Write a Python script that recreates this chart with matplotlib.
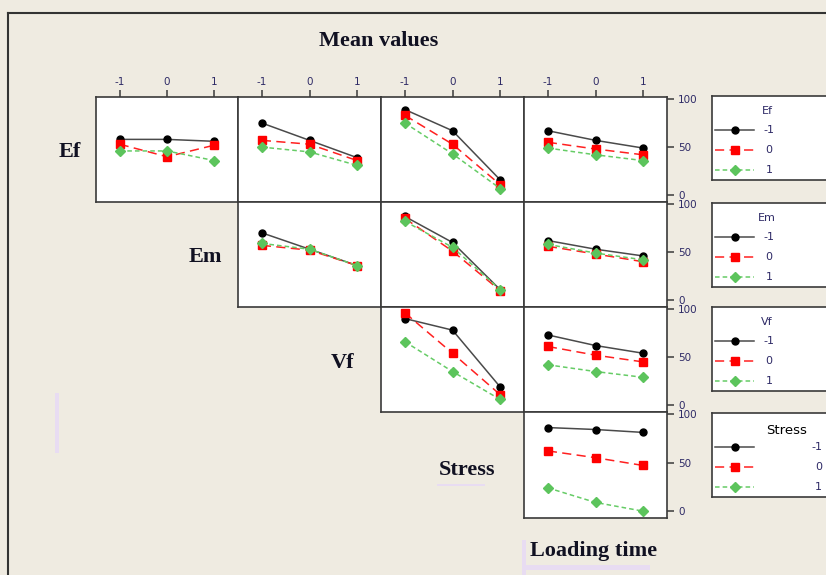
import matplotlib.pyplot as plt
from matplotlib.patches import Rectangle

# levels on the x axis and for the traces
levels = [-1, 0, 1]
trace_labels = ['-1', '0', '1']
factors = ['Ef', 'Em', 'Vf', 'Stress']
x_factors = ['Em', 'Vf', 'Stress', 'Loading time']

# mean values per panel: rows = trace level (-1, 0, 1)
ef_vs_em = [[58, 58, 56], [53, 40, 52], [46, 46, 36]]
ef_vs_vf = [[75, 57, 39], [57, 53, 36], [50, 45, 31]]
ef_vs_stress = [[89, 67, 16], [83, 53, 11], [75, 43, 7]]
ef_vs_time = [[67, 57, 49], [55, 48, 42], [49, 42, 36]]
em_vs_vf = [[70, 53, 36], [57, 52, 36], [59, 53, 36]]
em_vs_stress = [[87, 60, 11], [85, 51, 10], [82, 55, 11]]
em_vs_time = [[62, 53, 46], [56, 48, 40], [58, 49, 42]]
vf_vs_stress = [[90, 78, 19], [96, 54, 11], [66, 35, 6]]
vf_vs_time = [[73, 62, 54], [61, 52, 45], [42, 35, 29]]
stress_vs_time = [[86, 84, 81], [62, 55, 47], [24, 9, 0]]

panels = {
    (0, 0): ef_vs_em, (0, 1): ef_vs_vf, (0, 2): ef_vs_stress, (0, 3): ef_vs_time,
    (1, 1): em_vs_vf, (1, 2): em_vs_stress, (1, 3): em_vs_time,
    (2, 2): vf_vs_stress, (2, 3): vf_vs_time,
    (3, 3): stress_vs_time,
}

W, H = 826, 575
bg = '#efebe1'
tick_col = '#2e2a66'
styles = [
    dict(color='#4a4a4a', ls='-', marker='o', mfc='black', mec='black', ms=5),
    dict(color='#ff2020', ls=(0, (6, 3.5)), marker='s', mfc='red', mec='red', ms=5.5),
    dict(color='#66cc66', ls=(0, (3, 2)), marker='D', mfc='#5cc45c', mec='#5cc45c', ms=5),
]

col_x = [96, 238, 381, 524, 667]
row_y = [97, 202, 307, 412, 518]


def fig_rect(x0, y0, x1, y1):
    return [x0 / W, 1 - y1 / H, (x1 - x0) / W, (y1 - y0) / H]


fig = plt.figure(figsize=(W / 100, H / 100), dpi=100)
fig.patch.set_facecolor(bg)

# outer frame (only left and top edges are visible)
fig.add_artist(plt.Line2D([8 / W, 8 / W], [0, 1 - 13 / H], color='#333333', lw=1.5))
fig.add_artist(plt.Line2D([8 / W, 1], [1 - 13 / H, 1 - 13 / H], color='#333333', lw=1.5))

# faint lavender marks from the original
for (x, y, w, h) in [(55, 393, 4, 60), (522, 565, 128, 5), (522, 540, 4, 35), (437, 484, 48, 2)]:
    fig.add_artist(Rectangle((x / W, 1 - (y + h) / H), w / W, h / H,
                             transform=fig.transFigure, color='#e8dcf2', lw=0))

for (r, c), data in panels.items():
    ax = fig.add_axes(fig_rect(col_x[c], row_y[r], col_x[c + 1], row_y[r + 1]))
    ax.set_facecolor('white')
    for i, series in enumerate(data):
        ax.plot(levels, series, lw=1.1, **styles[i])
    ax.set_xlim(-1.5, 1.5)
    ax.set_ylim(-7, 102)
    for s in ax.spines.values():
        s.set_color('#3a3a3a')
        s.set_linewidth(1.2)
    ax.tick_params(colors='#3a3a3a', labelcolor=tick_col, labelsize=7.5, length=5, width=1.1)
    if r == 0:
        ax.xaxis.tick_top()
        ax.set_xticks(levels)
        ax.set_xticklabels(trace_labels)
        ax.tick_params(axis='x', pad=2)
    else:
        ax.set_xticks([])
    if c == 3:
        ax.yaxis.tick_right()
        ax.set_yticks([0, 50, 100])
        ax.tick_params(axis='y', pad=3)
    else:
        ax.set_yticks([])

# legends, one per trace factor
leg_tops = [96, 203, 307, 413]
for r, name in enumerate(factors):
    top = leg_tops[r]
    lax = fig.add_axes(fig_rect(712, top, 845, top + 84))
    lax.set_facecolor('white')
    lax.set_xlim(712, 845)
    lax.set_ylim(top + 84, top)
    lax.set_xticks([])
    lax.set_yticks([])
    for s in lax.spines.values():
        s.set_color('#3a3a3a')
        s.set_linewidth(1.2)
    if name == 'Stress':
        lax.text(787, top + 17, name, ha='center', va='center', fontsize=9.5, color='black')
    else:
        lax.text(767, top + 15, name, ha='center', va='center', fontsize=8, color=tick_col)
    for i, lab in enumerate(trace_labels):
        yy = top + 34 + 20 * i
        st = styles[i]
        lax.plot([715, 754], [yy, yy], lw=1.1, color=st['color'], ls=st['ls'])
        lax.plot([735.5], [yy], ls='none', marker=st['marker'], mfc=st['mfc'], mec=st['mec'], ms=st['ms'])
        if name == 'Stress':
            lax.text(822, yy, lab, ha='right', va='center', fontsize=8, color=tick_col)
        else:
            lax.text(769, yy, lab, ha='center', va='center', fontsize=8, color=tick_col)

# factor names
serif = dict(family='Liberation Serif', fontweight='bold', fontsize=16, color='#111122')
fig.text(379 / W, 1 - 41 / H, 'Mean values', ha='center', va='center', **serif)
label_pos = [(70, 152), (205, 257), (343, 363), (467, 470)]
for name, (x, y) in zip(factors, label_pos):
    fig.text(x / W, 1 - y / H, name, ha='center', va='center', **serif)
fig.text(594 / W, 1 - 551 / H, 'Loading time', ha='center', va='center', **serif)

fig.savefig('out.png', dpi=100, facecolor=bg)
